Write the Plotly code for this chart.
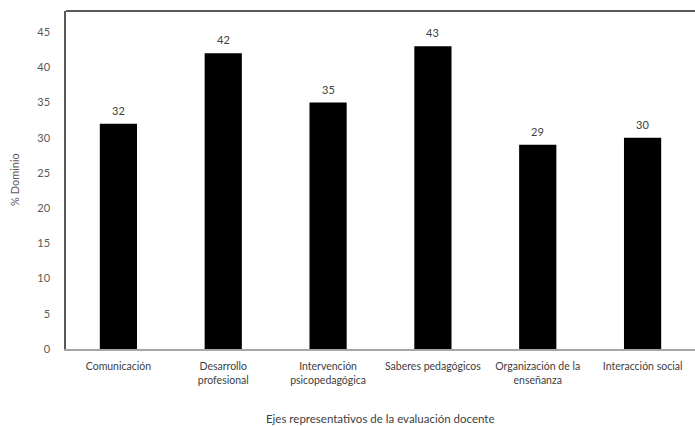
import plotly.graph_objects as go

categories = ["Comunicación", "Desarrollo<br>profesional", "Intervención<br>psicopedagógica",
              "Saberes pedagógicos", "Organización de la<br>enseñanza", "Interacción social"]
values = [32, 42, 35, 43, 29, 30]
y_ticks = [0, 5, 10, 15, 20, 25, 30, 35, 40, 45]

font = "Lato, 'Open Sans', sans-serif"

fig = go.Figure(go.Bar(
    x=categories, y=values,
    marker=dict(color="black", line=dict(width=0)),
    width=0.355,
    cliponaxis=False,
))

for c, v in zip(categories, values):
    fig.add_annotation(x=c, y=v, text=str(v), showarrow=False, yanchor="bottom",
                       yshift=5, font=dict(family=font, size=11, color="#404040"))

fig.update_layout(
    width=695, height=426,
    margin=dict(l=66, r=0, t=11, b=77),
    paper_bgcolor="white", plot_bgcolor="white",
    showlegend=False,
    font=dict(family=font, size=11, color="#404040"),
    xaxis=dict(
        showline=True, linecolor="#a6a6a6", linewidth=1.5,
        ticks="", showgrid=False, automargin=False,
        tickfont=dict(size=10.5, color="#404040"),
        ticklabelstandoff=7,
    ),
    yaxis=dict(
        range=[0, 48], tickvals=y_ticks,
        showline=True, linecolor="#595959", linewidth=1.5,
        ticks="", showgrid=False, zeroline=False, automargin=False,
        tickfont=dict(size=11, color="#595959"),
        ticklabelstandoff=12,
    ),
    shapes=[dict(type="line", xref="paper", yref="paper", x0=0, x1=1, y0=1, y1=1,
                 line=dict(color="#595959", width=2))],
    annotations=list(fig.layout.annotations) + [
        dict(text="Ejes representativos de la evaluación docente", xref="paper", yref="paper",
             x=0.5, y=0, yshift=-69, xanchor="center", yanchor="middle", showarrow=False,
             font=dict(family=font, size=11.5, color="#404040")),
        dict(text="% Dominio", xref="paper", yref="paper", x=0, xshift=-52, y=0.5,
             textangle=-90, xanchor="center", yanchor="middle", showarrow=False,
             font=dict(family=font, size=11, color="#595959")),
    ],
    bargap=0.65,
)

fig.write_html("out.html", config={"displayModeBar": False},
               post_script="document.body.style.margin='0';document.body.style.overflow='hidden';")
